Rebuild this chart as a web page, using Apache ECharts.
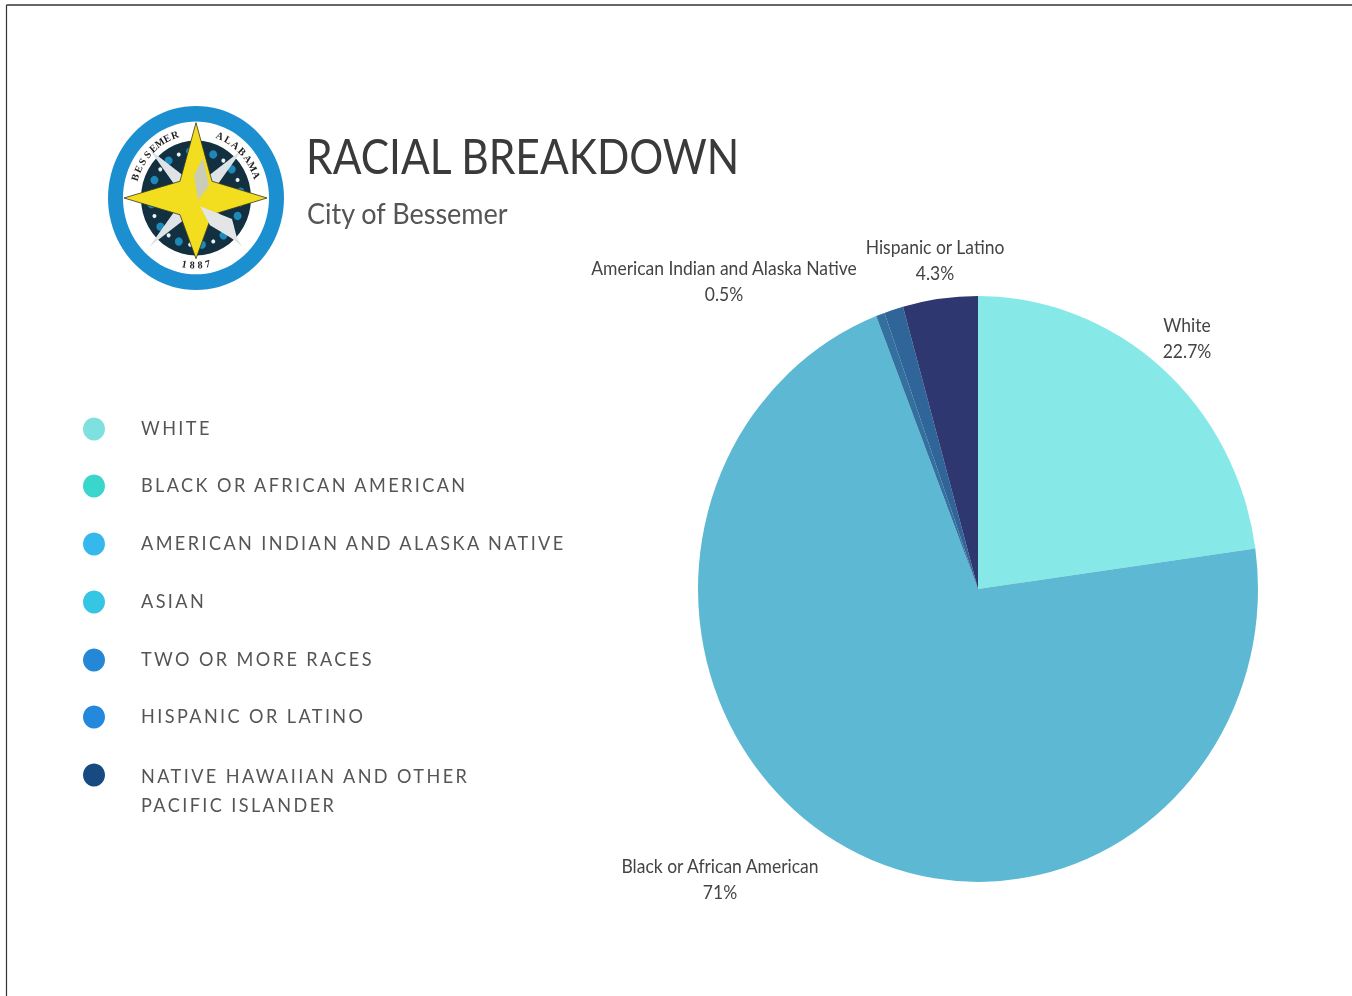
<!DOCTYPE html>
<html><head><meta charset="utf-8">
<style>
html,body{margin:0;padding:0;background:#fff;width:1352px;height:996px;overflow:hidden}
#w{width:1352px;height:996px;overflow:hidden;position:relative;filter:blur(.6px)}
#c{width:1352px;height:952px;transform-origin:0 0;transform:scaleY(1.0462)}
#c text[style*="18.1px"]{letter-spacing:2.4px}
</style>
<script src="https://cdn.jsdelivr.net/npm/echarts@6/dist/echarts.min.js"></script>
</head><body><div id="w"><div id="c"></div></div>
<script>
const sliceNames=['White','Black or African American','American Indian and Alaska Native','Two or More Races','Hispanic or Latino'];
const sliceValues=[22.7,71,0.5,1.1,4.3];
const sliceColors=['#87E8E8','#5DB9D3','#3370A0','#2F6598','#2E3770'];
const labelShown=[true,true,true,false,true];
const labelCenters=[[1187,338],[720,879],[724,281],[0,0],[935,260]];
const legendNames=['WHITE','BLACK OR AFRICAN AMERICAN','AMERICAN INDIAN AND ALASKA NATIVE','ASIAN','TWO OR MORE RACES','HISPANIC OR LATINO','NATIVE HAWAIIAN AND OTHER\nPACIFIC ISLANDER'];
const legendColors=['#7FE0E0','#3AD6CB','#35B9EC','#35C6E4','#2488D6','#2488DC','#164A80'];
const legendY=[428,485,543,601,659,716,775];
const S=996/952;
const FF='Lato, "Noto Sans", sans-serif';
const g=[];
// frame
g.push({type:'line',shape:{x1:6.5,y1:5/S,x2:1352,y2:5/S},style:{stroke:'#333',lineWidth:1.2}});
g.push({type:'line',shape:{x1:6.5,y1:5/S,x2:6.5,y2:952},style:{stroke:'#333',lineWidth:1.2}});
// title
g.push({type:'text',x:306,y:155/S,scaleX:0.905,style:{text:'RACIAL BREAKDOWN',font:'400 47px '+FF,fill:'#3a3a3a',textVerticalAlign:'middle'}});
g.push({type:'text',x:307,y:213/S,style:{text:'City of Bessemer',font:'400 27px '+FF,fill:'#555',textVerticalAlign:'middle'}});
// legend
legendNames.forEach((n,i)=>{
  g.push({type:'circle',shape:{cx:94,cy:(legendY[i]+(i<6?1:0))/S,r:11},style:{fill:legendColors[i]}});
  g.push({type:'text',x:141,y:(i===6?762:legendY[i])/S,style:{text:n,font:'400 18.1px '+FF,fill:'#555',textVerticalAlign:i===6?'top':'middle',lineHeight:27,textAlign:'left'}});
});
// logo
const lx=196,ly=198/S;
function star(R,r,rot){const p=[];for(let i=0;i<8;i++){const a=rot+i*Math.PI/4,q=i%2?r:R;p.push([lx+q*Math.cos(a),ly+q*Math.sin(a)]);}return p;}
g.push({type:'circle',shape:{cx:lx,cy:ly,r:88},style:{fill:'#1B8FD0'}});
g.push({type:'circle',shape:{cx:lx,cy:ly,r:73},style:{fill:'#fff'}});
g.push({type:'circle',shape:{cx:lx,cy:ly,r:55},style:{fill:'#12303F'}});
for(let i=0;i<24;i++){const a=i*Math.PI/12+.13;
  g.push({type:'circle',shape:{cx:lx+45*Math.cos(a),cy:ly+45*Math.sin(a),r:i%2?4:2},style:{fill:i%2?'#1E88B8':'#EAF3F6'}});}
g.push({type:'polygon',shape:{points:star(66,12,Math.PI/4)},style:{fill:'#DDE3E6'}});
g.push({type:'polygon',shape:{points:[[lx,ly-72],[lx+16,ly-16],[lx+71,ly],[lx+16,ly+16],[lx,ly+58],[lx-16,ly+16],[lx-72,ly],[lx-16,ly-16]]},style:{fill:'#F2DE1E',stroke:'#3a3a20',lineWidth:.8}});
g.push({type:'polygon',shape:{points:[[lx+7,ly-38],[lx+13,ly-12],[lx+2,ly+2],[lx-2,ly-22]]},style:{fill:'#C9CDB8'}});
g.push({type:'polygon',shape:{points:[[lx+4,ly+8],[lx+36,ly+20],[lx+42,ly+42],[lx+14,ly+26]]},style:{fill:'#E3E5E6'}});
function arcText(t,start,step,rad,flip){[...t].forEach((ch,i)=>{const d=start+i*step,a=d*Math.PI/180;
  g.push({type:'text',x:lx+rad*Math.sin(a),y:ly-rad*Math.cos(a),rotation:-(a+(flip?Math.PI:0)),
    style:{text:ch,font:'700 10px "Liberation Serif", serif',fill:'#222',textAlign:'center',textVerticalAlign:'middle'}});});}
arcText('BESSEMER',-72,7.5,64,false);
arcText('ALABAMA',22,8,64,false);
arcText('1887',190.5,-7,64,true);

const option={
  animation:false,
  backgroundColor:'#fff',
  graphic:{elements:g},
  series:[{
    type:'pie',center:[978,589/S],radius:[0,280],startAngle:90,clockwise:true,silent:true,
    data:sliceNames.map((n,i)=>({name:n,value:sliceValues[i],itemStyle:{color:sliceColors[i]},
      label:{show:labelShown[i]},labelLine:{show:false}})),
    label:{position:'outside',formatter:'{b}\n{c}%',fontFamily:FF,fontSize:17.5,color:'#444',lineHeight:25,align:'center',verticalAlign:'middle'},
    labelLine:{show:false},
    labelLayout:p=>{const c=labelCenters[p.dataIndex];return {x:c[0],y:c[1]/S,align:'center',verticalAlign:'middle'};}
  }]
};
const chart=echarts.init(document.getElementById('c'),null,{renderer:'svg',width:1352,height:952});
chart.setOption(option);
</script></body></html>
